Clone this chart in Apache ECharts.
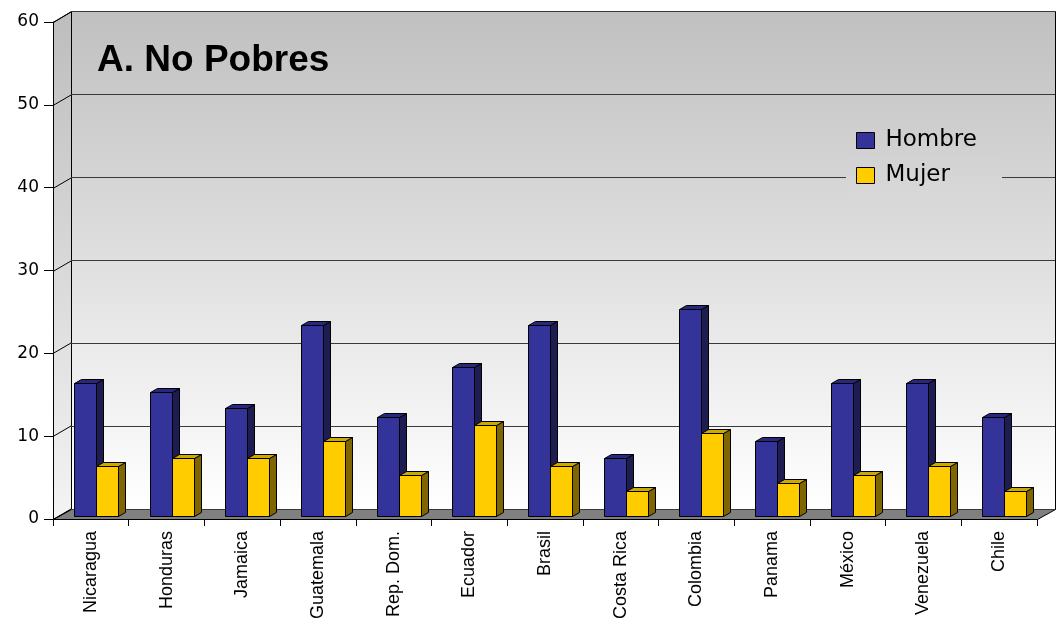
<!DOCTYPE html>
<html>
<head>
<meta charset="utf-8">
<script src="https://cdn.jsdelivr.net/npm/echarts@6/dist/echarts.min.js"></script>
<style>html,body{margin:0;padding:0;background:#fff}#c{width:1056px;height:627px}</style>
</head>
<body>
<div id="c"></div>
<script>
const categories = ['Nicaragua','Honduras','Jamaica','Guatemala','Rep. Dom.','Ecuador','Brasil','Costa Rica','Colombia','Panama','México','Venezuela','Chile'];
const hombre = [16,15,13,23,12,18,23,7,25,9,16,16,12];
const mujer = [6,7,7,9,5,11,6,3,10,4,5,6,3];
const yTicks = [0,10,20,30,40,50,60];
const seriesNames = ['Hombre','Mujer'];
const titleText = 'A. No Pobres';

const wallGrad = {type:'linear',x:0,y:0,x2:0,y2:1,colorStops:[{offset:0,color:'#c0c0c0'},{offset:1,color:'#ffffff'}]};
const sideGrad = {type:'linear',x:0,y:0,x2:0,y2:1,colorStops:[{offset:0,color:'#bdbdbd'},{offset:1,color:'#f4f4f4'}]};
const legendGrad = {type:'linear',x:0,y:0,x2:0,y2:1,colorStops:[{offset:0,color:'#cdcdcd'},{offset:1,color:'#d8d8d8'}]};

function barRenderer(xOff, cFront, cSide, cTop) {
  return function (params, api) {
    const i = api.value(0), v = api.value(1);
    const top = api.coord([i, v]);
    const base = api.coord([i, 0]);
    const w = 22, dx = 7, dy = -4;
    const x0 = Math.round(top[0] + xOff) + 0.5, x1 = x0 + w;
    const yT = Math.round(top[1] - 3) + 0.5, yB = Math.round(base[1] - 3) + 0.5;
    const st = {stroke:'#000', lineWidth:1};
    return {type:'group', children:[
      {type:'polygon', shape:{points:[[x1,yB],[x1+dx,yB+dy],[x1+dx,yT+dy],[x1,yT]]}, style:Object.assign({fill:cSide}, st)},
      {type:'polygon', shape:{points:[[x0,yT],[x0+dx,yT+dy],[x1+dx,yT+dy],[x1,yT]]}, style:Object.assign({fill:cTop}, st)},
      {type:'rect', shape:{x:x0, y:yT, width:w, height:yB-yT}, style:Object.assign({fill:cFront}, st)}
    ]};
  };
}

function sideGridRenderer(params, api) {
  const v = api.value(0);
  const p = api.coord([0, v]);
  const x0 = params.coordSys.x;
  const y = Math.round(p[1]) + 0.5;
  return {type:'line', shape:{x1:x0, y1:y, x2:x0+18, y2:y-10.5}, style:{stroke:'#000', lineWidth:1}};
}

const chart = echarts.init(document.getElementById('c'), null, {renderer:'canvas'});
chart.setOption({
  animation:false,
  backgroundColor:'#ffffff',
  title:{text:titleText, left:92, top:37, textStyle:{fontFamily:'Liberation Sans, Arial', fontWeight:'bold', fontSize:37, color:'#000'}},
  legend:{
    data:seriesNames, orient:'vertical', left:846, top:119,
    padding:[10,25,10,10], itemGap:12, itemWidth:18, itemHeight:16, icon:'rect',
    backgroundColor:legendGrad,
    itemStyle:{borderColor:'#000', borderWidth:1},
    textStyle:{fontFamily:'DejaVu Sans', fontSize:23, color:'#000', padding:[0,0,0,6]}
  },
  graphic:[
    {type:'rect', z:-5, shape:{x:71.5, y:11.5, width:984, height:498}, style:{fill:wallGrad, stroke:'#000', lineWidth:1}},
    {type:'polygon', z:-5, shape:{points:[[53.5,22.5],[71.5,11.5],[71.5,509.5],[53.5,519.5]]}, style:{fill:sideGrad, stroke:'#000', lineWidth:1}},
    {type:'polygon', z:-4, shape:{points:[[53.5,519.5],[71.5,509.5],[1055.5,509.5],[1037.5,519.5]]}, style:{fill:'#808080', stroke:'#000', lineWidth:1}}
  ],
  grid:[
    {left:53, right:19, top:22, bottom:108},
    {left:71, right:1, top:11, bottom:118}
  ],
  xAxis:[
    {type:'category', gridIndex:0, data:categories, boundaryGap:true,
     axisLine:{show:true, lineStyle:{color:'#000', width:1}},
     axisTick:{show:true, length:7, lineStyle:{color:'#000'}},
     axisLabel:{rotate:90, margin:12, fontFamily:'Liberation Sans, Arial', fontSize:18, color:'#000'},
     splitLine:{show:false}},
    {type:'value', gridIndex:1, min:0, max:1, show:false}
  ],
  yAxis:[
    {type:'value', gridIndex:0, min:0, max:60, interval:10,
     axisLine:{show:true, lineStyle:{color:'#000', width:1}},
     axisTick:{show:true, length:9, lineStyle:{color:'#000'}},
     axisLabel:{margin:14, fontFamily:'DejaVu Sans', fontSize:17, color:'#000'},
     splitLine:{show:false}},
    {type:'value', gridIndex:1, min:0, max:60, interval:10,
     axisLine:{show:false}, axisTick:{show:false}, axisLabel:{show:false},
     splitLine:{show:true, lineStyle:{color:'#3a3a3a', width:1}}}
  ],
  series:[
    {name:'Sidegrid', type:'custom', xAxisIndex:0, yAxisIndex:0, z:1, silent:true,
     data:yTicks.map(v => [v]), encode:{y:0}, renderItem:sideGridRenderer},
    {name:seriesNames[0], type:'custom', xAxisIndex:0, yAxisIndex:0, z:3,
     itemStyle:{color:'#333399'},
     data:hombre.map((v,i) => [i, v]), encode:{x:0, y:1},
     renderItem:barRenderer(-17, '#333399', '#1d1d52', '#28287e')},
    {name:seriesNames[1], type:'custom', xAxisIndex:0, yAxisIndex:0, z:3,
     itemStyle:{color:'#ffcc00'},
     data:mujer.map((v,i) => [i, v]), encode:{x:0, y:1},
     renderItem:barRenderer(5, '#ffcc00', '#806600', '#ccaa00')}
  ]
});
</script>
</body>
</html>
